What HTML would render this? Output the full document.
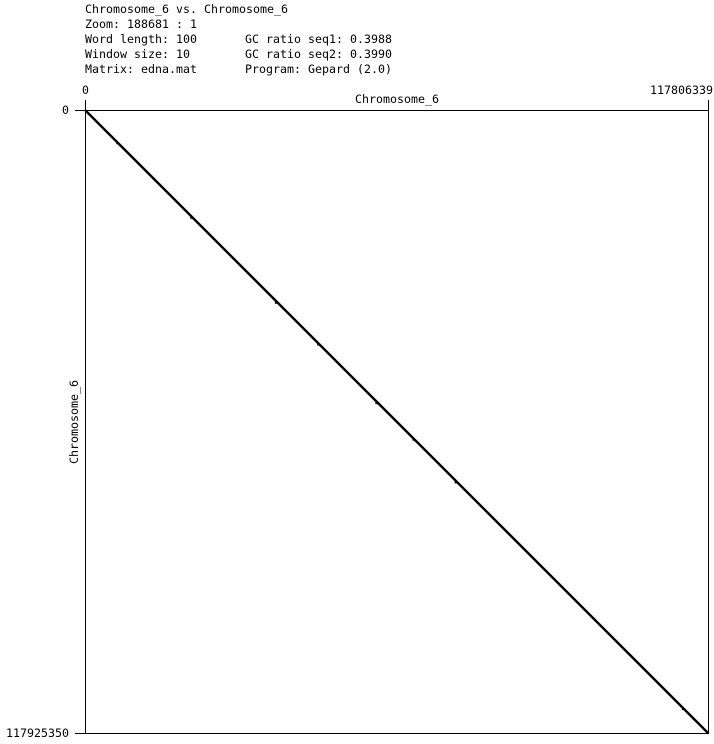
<!DOCTYPE html>
<html><head><meta charset="utf-8">
<style>
html,body{margin:0;padding:0;background:#fff;}
body{width:714px;height:739px;overflow:hidden;}
svg text{font-family:"DejaVu Sans Mono","Liberation Mono",monospace;font-size:11.5px;fill:#000;}
</style></head>
<body>
<svg id="chart" width="714" height="739" xmlns="http://www.w3.org/2000/svg">
  <g>
    <text class="fit" x="85" y="13">Chromosome_6 vs. Chromosome_6</text>
    <text class="fit" x="85" y="28">Zoom: 188681 : 1</text>
    <text class="fit" x="85" y="43">Word length: 100</text>
    <text class="fit" x="85" y="58">Window size: 10</text>
    <text class="fit" x="85" y="73">Matrix: edna.mat</text>
    <text class="fit" x="245" y="43">GC ratio seq1: 0.3988</text>
    <text class="fit" x="245" y="58">GC ratio seq2: 0.3990</text>
    <text class="fit" x="245" y="73">Program: Gepard (2.0)</text>
  </g>
  <rect x="85.5" y="110.5" width="623" height="623" fill="none" stroke="#000" stroke-width="1"/>
  <line x1="85.5" y1="100" x2="85.5" y2="110" stroke="#000"/>
  <line x1="708.5" y1="100" x2="708.5" y2="110" stroke="#000"/>
  <line x1="75" y1="110.5" x2="85" y2="110.5" stroke="#000"/>
  <line x1="75" y1="733.5" x2="85" y2="733.5" stroke="#000"/>
  <text x="82" y="94">0</text>
  <text class="fit" x="650" y="94">117806339</text>
  <text class="fit" x="355" y="103">Chromosome_6</text>
  <text x="62" y="114">0</text>
  <text class="fit" x="6" y="737">117925350</text>
  <text class="fit" x="0" y="0" transform="translate(78,464) rotate(-90)">Chromosome_6</text>
  <g id="marks"></g>
</svg>
<script>
const seq1Length = [117806339];
const seq2Length = [117925350];
const seg1Start = [0];
const seg1End = [117806339];
const seg2Start = [0];
const seg2End = [117925350];
const dot1 = [6000000, 20000000, 36000000, 44000000, 55000000, 62000000, 70000000, 113000000, 115000000];
const dot2 = [6200000, 20300000, 36400000, 44300000, 55400000, 62300000, 70400000, 113300000, 115200000];

document.querySelectorAll('text.fit').forEach(t => {
  t.setAttribute('textLength', t.textContent.length * 7);
  t.setAttribute('lengthAdjust', 'spacingAndGlyphs');
});

const X0 = 85.5, X1 = 708.5, Y0 = 110.5, Y1 = 733.5;
function xScale(v){ return X0 + (v / seq1Length[0]) * (X1 - X0); }
function yScale(v){ return Y0 + (v / seq2Length[0]) * (Y1 - Y0); }

const g = document.getElementById('marks');
const NS = 'http://www.w3.org/2000/svg';
for (let i = 0; i < seg1Start.length; i++) {
  const l = document.createElementNS(NS, 'line');
  l.setAttribute('x1', xScale(seg1Start[i]));
  l.setAttribute('y1', yScale(seg2Start[i]));
  l.setAttribute('x2', xScale(seg1End[i]));
  l.setAttribute('y2', yScale(seg2End[i]));
  l.setAttribute('stroke', '#000');
  l.setAttribute('stroke-width', '2.4');
  
  
  g.appendChild(l);
}
for (let i = 0; i < dot1.length; i++) {
  const r = document.createElementNS(NS, 'rect');
  r.setAttribute('x', xScale(dot1[i]) - 1);
  r.setAttribute('y', yScale(dot2[i]) - 1);
  r.setAttribute('width', 2);
  r.setAttribute('height', 2);
  r.setAttribute('fill', '#000');
  
  
  g.appendChild(r);
}
</script>
</body></html>
